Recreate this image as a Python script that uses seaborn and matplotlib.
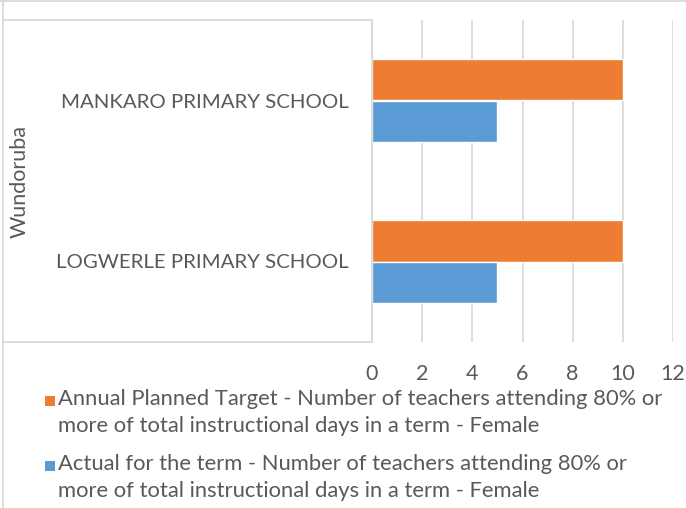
import matplotlib
matplotlib.use("Agg")
import matplotlib.pyplot as plt
from matplotlib.lines import Line2D
from matplotlib.patches import Rectangle
import pandas as pd
import seaborn as sns

# Chart data
schools = ["MANKARO PRIMARY SCHOOL", "LOGWERLE PRIMARY SCHOOL"]
district = "Wundoruba"
series_names = [
    "Annual Planned Target - Number of teachers attending 80% or\nmore of total instructional days in a term - Female",
    "Actual for the term - Number of teachers attending 80% or\nmore of total instructional days in a term - Female",
]
planned_target = [10, 10]
actual_term = [5, 5]
x_ticks = [0, 2, 4, 6, 8, 10, 12]

colors = ["#ED7D31", "#5B9BD5"]
text_color = "#595959"
grid_color = "#D9D9D9"

sns.set_theme(style="white")
plt.rcParams["font.family"] = ["Lato", "DejaVu Sans"]

df = pd.DataFrame({
    "school": schools * 2,
    "value": planned_target + actual_term,
    "series": [series_names[0]] * len(schools) + [series_names[1]] * len(schools),
})

W, H = 686, 508
fig = plt.figure(figsize=(W / 100, H / 100), dpi=100)
ax = fig.add_axes([372 / W, 1 - 342 / H, (673 - 372) / W, (342 - 20) / H])

sns.barplot(data=df, y="school", x="value", hue="series", order=schools,
            hue_order=series_names, palette=colors, orient="h", width=0.52,
            saturation=1, ax=ax, legend=False)

ax.set_xlim(0, 12)
ax.set_xticks(x_ticks)
ax.set_xlabel("")
ax.set_ylabel("")
ax.grid(axis="x", color=grid_color, linewidth=1.3)
ax.set_axisbelow(True)
for s in ["top", "right", "bottom"]:
    ax.spines[s].set_visible(False)
ax.spines["left"].set_color(grid_color)
ax.spines["left"].set_linewidth(1.3)
ax.tick_params(axis="x", length=0, pad=16, labelsize=15.5, labelcolor=text_color)
ax.tick_params(axis="y", length=0, pad=16.5, labelsize=14.7, labelcolor=text_color)

# Category box and outer chart border
for (x0, y0, x1, y1) in [(3, 20, 372, 20), (3, 342, 372, 342),
                         (3, 0, 3, H), (0, 1, W, 1)]:
    fig.add_artist(Line2D([x0 / W, x1 / W], [1 - y0 / H, 1 - y1 / H],
                          color=grid_color, linewidth=1.3,
                          transform=fig.transFigure))

fig.text(20 / W, 1 - 181 / H, district, rotation=90, ha="center", va="center",
         fontsize=15.5, color=text_color)

# Legend: colour key aligned with the first line of each entry
for i, (name, c) in enumerate(zip(series_names, colors)):
    y_first = 400 + i * 65
    fig.add_artist(Rectangle((45 / W, 1 - (y_first + 6) / H), 10 / W, 10 / H,
                             facecolor=c, edgecolor="none",
                             transform=fig.transFigure))
    fig.text(58 / W, 1 - (y_first - 11) / H, name, ha="left", va="top",
             fontsize=15.8, color=text_color, linespacing=1.42)

fig.savefig("out.png", dpi=100)
